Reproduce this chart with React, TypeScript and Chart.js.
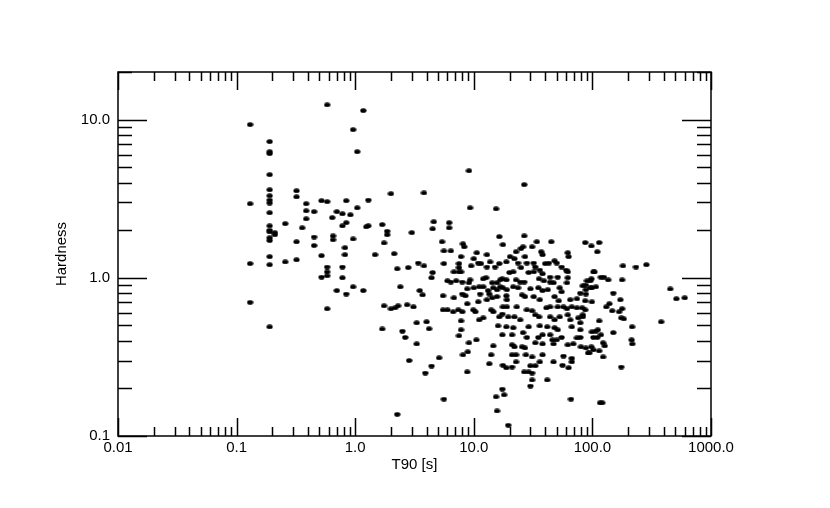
import { useEffect, useRef } from "react";
import { Chart, registerables } from "chart.js";

Chart.register(...registerables);

// T90 duration [s]
const t90: number[] = [
  0.13, 0.13, 0.13, 0.13,
  0.19, 0.19, 0.19, 0.19, 0.19, 0.19, 0.19, 0.19, 0.19, 0.19, 0.19, 0.19, 0.19, 0.19, 0.19, 0.19, 0.19, 0.21, 0.21,
  0.58, 1.17, 0.96, 1.04, 2.0, 0.32, 0.32, 0.386, 0.386, 0.386, 0.52, 0.58, 0.84, 1.29, 1.04, 0.70, 0.78, 0.91, 0.45, 0.64,
  0.84, 0.78, 1.24, 1.29, 0.257, 0.357, 1.69, 1.86, 1.86, 3.0, 0.45, 0.65, 0.65, 0.96, 0.32, 0.45, 0.82, 0.82, 0.52, 1.47,
  1.75, 2.13, 0.257, 0.32, 0.58, 0.78, 0.58, 0.58, 0.52, 0.78, 0.70, 0.84, 0.96, 1.17, 2.26, 2.8, 2.4, 0.58, 1.75, 2.0,
  2.17, 2.3, 2.74, 1.69, 2.5, 2.64, 2.85, 2.26,
  3.8, 9.1, 26.6, 9.3, 15.4, 4.6, 6.2, 6.2, 4.5,
  5.4, 8.1, 8.3, 5.6, 6.4, 10.6, 12.9, 16.4, 7.8, 10.0, 3.4, 3.8, 5.6, 7.5, 7.5, 9.5, 10.9, 11.5, 13.7, 12.9, 15.1, 16.4,
  4.5, 4.4, 6.8, 7.5, 7.8, 6.0, 6.4, 7.1, 8.0, 9.3, 9.1, 12.0, 12.7, 14.3, 15.7, 16.7, 8.8, 10.0, 11.1, 12.0, 13.2, 14.6,
  15.7, 8.0, 8.5, 11.3, 13.5, 5.5, 6.8, 10.9, 12.9, 14.3, 15.7, 3.5, 3.7, 8.8, 3.1, 5.5, 6.0, 6.7, 7.4, 8.0, 9.9, 10.3,
  11.1, 12.0, 14.0, 14.6, 16.4, 16.0, 7.8, 4.0, 3.3, 4.2, 7.8, 7.5, 10.5, 9.1, 14.6, 3.3, 8.9, 8.1, 14.0, 5.1, 4.4, 13.5,
  3.9, 8.8, 5.6, 18.8, 22.7, 30, 33, 26.6, 29, 31, 36, 47, 56, 63, 67, 31, 30, 41.6, 17.4, 15.4, 18.0, 15.7, 19.5, 66, 116,
  87, 98, 114, 110, 181, 233, 285, 102, 118, 125, 98, 136, 178, 90, 96, 83, 88, 107, 99, 150, 88, 87, 99, 172, 139, 131,
  82, 87, 147, 178, 168, 83, 175, 184, 114, 380, 79, 216, 107, 111, 150, 102, 110, 118, 79, 214, 217, 123, 127, 98, 80,
  114, 94, 123, 175, 121, 453, 510, 600,
  26.6, 45, 17.6, 22.7, 25, 26, 31, 34, 37, 38, 62, 63, 20.2, 22, 27, 18.8, 23.6, 28, 32, 25, 33, 36, 40, 43, 48, 50, 55,
  60, 62, 20, 21.5, 29, 32, 38, 44, 51, 62, 104, 17.4, 18.8, 22.7, 24.6, 26.6, 35.5, 39, 44, 47, 61, 16.7, 17.6, 19,
  21.5, 23.6, 30, 35, 38, 42, 53, 55, 79, 88, 96, 18.8, 19, 25.5, 27, 32, 36, 48, 52, 65, 74, 17.6, 19, 23, 28, 31, 41,
  44, 51, 57, 61, 67, 74, 17.4, 19.5, 22, 24.6, 33, 35.5, 44, 48, 53, 62, 65, 76, 83, 18.8, 21.5, 29, 36, 41.6, 48, 51,
  67, 79, 17.4, 21, 26, 28, 35, 38, 44, 50, 55, 74, 99, 21, 22, 25.5, 27, 33, 38, 46, 47, 62, 69, 88, 102, 21, 22.7,
  27.5, 31, 38, 57, 67, 92, 17.6, 21,
];

// Hardness ratio
const hardness: number[] = [
  9.3, 2.94, 1.23, 0.70,
  7.26, 6.27, 6.1, 4.49, 3.6, 3.3, 3.1, 2.97, 2.58, 2.13, 1.95, 2.0, 1.79, 1.72, 1.36, 1.21, 0.49, 1.93, 1.87,
  12.4, 11.4, 8.64, 6.27, 3.4, 3.55, 3.25, 2.94, 2.65, 2.36, 3.07, 3.03, 3.07, 3.1, 2.77, 2.62, 2.54, 2.5, 2.62, 2.4,
  2.23, 2.13, 2.1, 2.13, 2.2, 2.07, 2.17, 1.97, 1.87, 1.93, 1.81, 1.84, 1.74, 1.76, 1.69, 1.6, 1.55, 1.4, 1.38, 1.40,
  1.66, 1.42, 1.26, 1.30, 1.17, 1.17, 1.09, 1.03, 1.01, 1.0, 0.83, 0.79, 0.877, 0.83, 1.14, 1.16, 0.877, 0.637, 0.665, 0.637,
  0.646, 0.665, 0.675, 0.475, 0.46, 0.42, 0.30, 0.137,
  3.44, 4.75, 3.88, 2.77, 2.73, 2.26, 2.23, 2.07, 2.04,
  1.69, 1.64, 1.57, 1.48, 1.48, 1.44, 1.40, 1.82, 1.36, 1.32, 1.24, 1.19, 1.23, 1.23, 1.16, 1.19, 1.24, 1.23, 1.26, 1.17, 1.17, 1.23,
  1.08, 1.0, 1.09, 1.09, 1.09, 0.957, 0.94, 0.957, 0.94, 0.97, 0.93, 0.985, 1.0, 0.93, 0.93, 0.97, 0.852, 0.864, 0.877, 0.877, 0.83, 0.864,
  0.84, 0.79, 0.77, 0.79, 0.79, 0.77, 0.747, 0.705, 0.726, 0.747, 0.76, 0.83, 0.78, 0.685, 0.655, 0.627, 0.627, 0.61, 0.627, 0.61, 0.627, 0.61,
  0.542, 0.558, 0.627, 0.61, 0.566, 0.497, 0.534, 0.527, 0.519, 0.476, 0.469, 0.43, 0.405, 0.388, 0.371, 0.382, 0.34, 0.326, 0.326, 0.312, 0.277, 0.286,
  0.25, 0.254, 0.171, 0.27, 0.294, 0.278, 0.278, 0.254, 0.254, 0.25, 0.294, 0.294, 0.28, 0.27, 0.294, 0.226, 0.207, 0.226, 0.198, 0.177, 0.182, 0.144, 0.117, 0.171, 0.162,
  1.67, 1.59, 1.67, 1.46, 1.19, 1.17, 1.21, 1.09, 1.01, 1.01, 0.985, 0.97, 0.97, 0.957, 0.957, 0.89, 0.90, 0.877, 0.864, 0.80, 0.79, 0.715, 0.705, 0.726, 0.685, 0.655,
  0.646, 0.627, 0.618, 0.637, 0.61, 0.566, 0.558, 0.55, 0.534, 0.527, 0.519, 0.49, 0.46, 0.469, 0.45, 0.42, 0.42, 0.436, 0.42, 0.405, 0.382, 0.388, 0.371, 0.366, 0.366,
  0.345, 0.335, 0.316, 0.273, 0.162, 0.85, 0.737, 0.747,
  1.84, 1.69, 1.62, 1.46, 1.53, 1.57, 1.57, 1.69, 1.46, 1.40, 1.44, 1.36, 1.36, 1.32, 1.36, 1.26, 1.24, 1.24, 1.24, 1.16, 1.17, 1.12, 1.23, 1.24, 1.28, 1.24, 1.17,
  1.12, 1.09, 1.08, 1.09, 1.08, 1.09, 1.06, 1.01, 1.01, 1.0, 1.09, 0.985, 0.97, 0.97, 0.94, 0.94, 0.985, 0.957, 0.94, 0.93, 0.93, 0.877, 0.864, 0.84,
  0.877, 0.864, 0.852, 0.864, 0.83, 0.84, 0.864, 0.815, 0.8, 0.84, 0.864, 0.77, 0.726, 0.78, 0.76, 0.76, 0.726, 0.76, 0.715, 0.726, 0.737, 0.655, 0.655, 0.655, 0.627, 0.618, 0.646,
  0.655, 0.655, 0.655, 0.637, 0.655, 0.646, 0.59, 0.566, 0.566, 0.542, 0.583, 0.566, 0.566, 0.542, 0.566, 0.583, 0.542, 0.558, 0.583, 0.49, 0.483, 0.49, 0.497, 0.49, 0.483, 0.469,
  0.49, 0.469, 0.436, 0.436, 0.45, 0.42, 0.42, 0.436, 0.436, 0.405, 0.42, 0.417, 0.455, 0.377, 0.366, 0.366, 0.36, 0.388, 0.382, 0.405, 0.382, 0.377, 0.382, 0.36, 0.35, 0.326, 0.326,
  0.326, 0.316, 0.326, 0.32, 0.31, 0.335, 0.28, 0.273,
];

const xTickValues = [0.01, 0.1, 1, 10, 100, 1000];
const xTickLabels = ["0.01", "0.1", "1.0", "10.0", "100.0", "1000.0"];
const yTickValues = [0.1, 1, 10];
const yTickLabels = ["0.1", "1.0", "10.0"];

const FONT = "'Liberation Sans', Arial, Helvetica, sans-serif";

function makeDot(): HTMLCanvasElement {
  const c = document.createElement("canvas");
  c.width = 7;
  c.height = 5;
  const g = c.getContext("2d")!;
  g.fillStyle = "#000";
  g.beginPath();
  g.ellipse(3.5, 2.5, 3.1, 2.3, 0, 0, Math.PI * 2);
  g.fill();
  return c;
}

const frameTicks = {
  id: "frameTicks",
  afterDatasetsDraw(chart: any) {
    const { ctx, chartArea: a, scales } = chart;
    const xs = scales.x;
    const ys = scales.y;
    ctx.save();
    ctx.strokeStyle = "#000";
    ctx.lineWidth = 1.5;
    ctx.strokeRect(a.left, a.top, a.right - a.left, a.bottom - a.top);
    ctx.beginPath();
    // x ticks (bottom & top, inward)
    for (let d = -2; d <= 3; d++) {
      for (let m = 1; m <= 9; m++) {
        const v = m * Math.pow(10, d);
        if (v < xs.min * 0.999 || v > xs.max * 1.001) continue;
        const px = Math.round(xs.getPixelForValue(v)) + 0.5;
        const len = m === 1 ? 18 : 9;
        ctx.moveTo(px, a.bottom);
        ctx.lineTo(px, a.bottom - len);
        ctx.moveTo(px, a.top);
        ctx.lineTo(px, a.top + len);
      }
    }
    // y ticks (left & right, inward)
    for (let d = -1; d <= 1; d++) {
      for (let m = 1; m <= 9; m++) {
        const v = m * Math.pow(10, d);
        if (v < ys.min * 0.999 || v > ys.max * 1.001) continue;
        const py = Math.round(ys.getPixelForValue(v)) + 0.5;
        const len = m === 1 ? 29 : 14;
        ctx.moveTo(a.left, py);
        ctx.lineTo(a.left + len, py);
        ctx.moveTo(a.right, py);
        ctx.lineTo(a.right - len, py);
      }
    }
    ctx.stroke();
    ctx.restore();
  },
};

export default function App() {
  const ref = useRef<HTMLCanvasElement | null>(null);

  useEffect(() => {
    if (!ref.current) return;
    const dot = makeDot();
    const points = t90.map((x, i) => ({ x, y: hardness[i] }));
    const chart = new Chart(ref.current, {
      type: "scatter",
      data: {
        datasets: [
          {
            data: points,
            pointStyle: dot,
            pointRadius: 3,
            pointHoverRadius: 3,
            backgroundColor: "#000",
            borderColor: "#000",
          },
        ],
      },
      options: {
        responsive: false,
        animation: false,
        events: [],
        layout: { padding: { left: 0, top: 72, right: 119, bottom: 0 } },
        plugins: { legend: { display: false }, tooltip: { enabled: false } },
        scales: {
          x: {
            type: "logarithmic",
            min: 0.01,
            max: 1000,
            grid: { display: false, drawTicks: false },
            border: { display: false },
            afterBuildTicks: (s: any) => {
              s.ticks = xTickValues.map((v) => ({ value: v }));
            },
            afterFit: (s: any) => {
              s.height = 72;
            },
            ticks: {
              autoSkip: false,
              maxRotation: 0,
              minRotation: 0,
              padding: 3,
              color: "#000",
              font: { family: FONT, size: 15 },
              callback: (v: any) => xTickLabels[xTickValues.indexOf(Number(v))] ?? "",
            },
            title: {
              display: true,
              text: "T90 [s]",
              color: "#000",
              font: { family: FONT, size: 15, lineHeight: 1.2 },
              padding: { top: 0, bottom: 34 },
            },
          },
          y: {
            type: "logarithmic",
            min: 0.1,
            max: 20,
            grid: { display: false, drawTicks: false },
            border: { display: false },
            afterBuildTicks: (s: any) => {
              s.ticks = yTickValues.map((v) => ({ value: v }));
            },
            afterFit: (s: any) => {
              s.width = 118;
            },
            ticks: {
              autoSkip: false,
              padding: 8,
              color: "#000",
              font: { family: FONT, size: 15 },
              callback: (v: any) => yTickLabels[yTickValues.indexOf(Number(v))] ?? "",
            },
            title: {
              display: true,
              text: "Hardness",
              color: "#000",
              font: { family: FONT, size: 15, lineHeight: 1.2 },
              padding: { top: 53, bottom: 0 },
            },
          },
        },
      },
      plugins: [frameTicks],
    });
    return () => chart.destroy();
  }, []);

  return (
    <div style={{ position: "absolute", left: 0, top: 0, width: 830, height: 508, background: "#fff" }}>
      <canvas ref={ref} width={830} height={508} style={{ display: "block" }} />
    </div>
  );
}
